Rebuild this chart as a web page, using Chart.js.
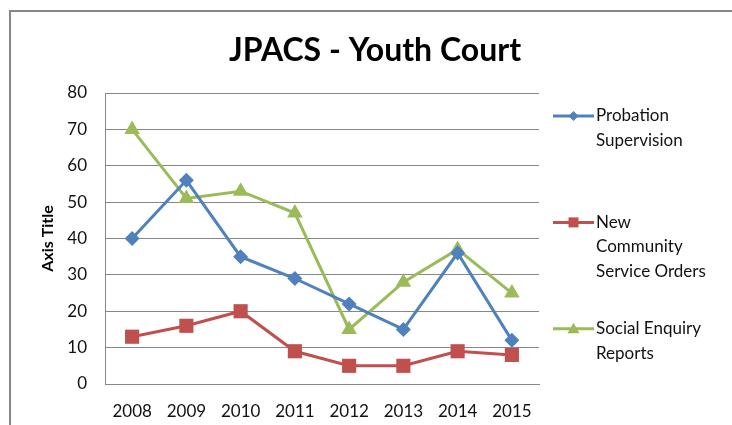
<!DOCTYPE html>
<html>
<head>
<meta charset="utf-8">
<script src="https://cdn.jsdelivr.net/npm/chart.js"></script>
<style>
    html, body { margin: 0; padding: 0; background: #fff; overflow: hidden; }
    #box { width: 732px; height: 425px; }
</style>
</head>
<body>
<div id="box"><canvas id="grafica"></canvas></div>
<script>
// datos
var anios = ['2008', '2009', '2010', '2011', '2012', '2013', '2014', '2015'];
var probation = [40, 56, 35, 29, 22, 15, 36, 12];
var communityOrders = [13, 16, 20, 9, 5, 5, 9, 8];
var socialEnquiry = [70, 51, 53, 47, 15, 28, 37, 25];
var nombres = [
    ['Probation', 'Supervision'],
    ['New', 'Community', 'Service Orders'],
    ['Social Enquiry', 'Reports']
];

var fuente = 'Lato, "Open Sans", sans-serif';
var gris = '#878787';

// marco + leyenda a la derecha
var leyenda = {
    id: 'leyenda',
    afterDraw: function (chart) {
        var ctx = chart.ctx;
        ctx.save();
        ctx.strokeStyle = gris;
        ctx.lineWidth = 2;
        ctx.beginPath();
        ctx.moveTo(10, 425);
        ctx.lineTo(10, 11);
        ctx.lineTo(732, 11);
        ctx.stroke();

        ctx.font = '17px ' + fuente;
        ctx.textBaseline = 'middle';
        ctx.textAlign = 'left';
        chart.data.datasets.forEach(function (ds, i) {
            var y = 116 + i * 106.4;
            ctx.strokeStyle = ds.borderColor;
            ctx.lineWidth = 3;
            ctx.beginPath();
            ctx.moveTo(553, y);
            ctx.lineTo(594, y);
            ctx.stroke();
            ctx.fillStyle = ds.borderColor;
            var cx = 573.5;
            ctx.beginPath();
            if (ds.pointStyle === 'rectRot') {
                ctx.moveTo(cx, y - 5); ctx.lineTo(cx + 5, y); ctx.lineTo(cx, y + 5); ctx.lineTo(cx - 5, y);
            } else if (ds.pointStyle === 'rect') {
                ctx.rect(cx - 5, y - 5, 10, 10);
            } else {
                ctx.moveTo(cx, y - 6); ctx.lineTo(cx + 6, y + 4.5); ctx.lineTo(cx - 6, y + 4.5);
            }
            ctx.closePath();
            ctx.fill();
            ctx.fillStyle = '#111';
            nombres[i].forEach(function (linea, j) {
                ctx.fillText(linea, 596, y + j * 24.6);
            });
        });
        ctx.restore();
    }
};

var config = {
    type: 'line',
    data: {
        labels: anios,
        datasets: [{
            label: 'Probation Supervision',
            data: probation,
            borderColor: '#4F81BD',
            backgroundColor: '#4F81BD',
            pointStyle: 'rectRot',
            pointRadius: 7.5
        }, {
            label: 'New Community Service Orders',
            data: communityOrders,
            borderColor: '#C0504D',
            backgroundColor: '#C0504D',
            pointStyle: 'rect',
            pointRadius: 10
        }, {
            label: 'Social Enquiry Reports',
            data: socialEnquiry,
            borderColor: '#9BBB59',
            backgroundColor: '#9BBB59',
            pointStyle: 'triangle',
            pointRadius: 9
        }]
    },
    options: {
        responsive: false,
        animation: false,
        layout: { padding: { left: 18, right: 0, top: 0, bottom: 0 } },
        elements: {
            line: { borderWidth: 3, tension: 0 },
            point: { borderWidth: 0, hoverRadius: 8 }
        },
        plugins: {
            legend: { display: false },
            tooltip: { enabled: false },
            title: {
                display: true,
                text: 'JPACS - Youth Court',
                color: '#000',
                font: { family: fuente, size: 32, weight: 'bold' },
                padding: { top: 31, bottom: 23.6 }
            }
        },
        scales: {
            x: {
                offset: true,
                grid: { display: false, drawTicks: false },
                border: { display: true, color: gris, width: 1 },
                ticks: { color: '#111', padding: 17, font: { family: fuente, size: 17 } },
                afterFit: function (s) { s.height = 41; }
            },
            y: {
                min: 0,
                max: 80,
                ticks: { stepSize: 10, color: '#111', padding: 18, font: { family: fuente, size: 17 } },
                grid: { color: gris, drawTicks: false },
                border: { display: true, color: gris, width: 1 },
                title: {
                    display: true,
                    text: 'Axis Title',
                    color: '#000',
                    font: { family: fuente, size: 16, weight: 'bold' },
                    padding: { top: 20, bottom: 0 }
                },
                afterFit: function (s) { s.width = 87; }
            },
            espacio: {
                position: 'right',
                display: true,
                grid: { display: false },
                border: { display: false },
                ticks: { display: false },
                afterFit: function (s) { s.width = 193; }
            }
        }
    },
    plugins: [leyenda]
};

var canvas = document.getElementById('grafica');
canvas.width = 732;
canvas.height = 425;
window.linea = new Chart(canvas.getContext('2d'), config);
</script>
</body>
</html>
